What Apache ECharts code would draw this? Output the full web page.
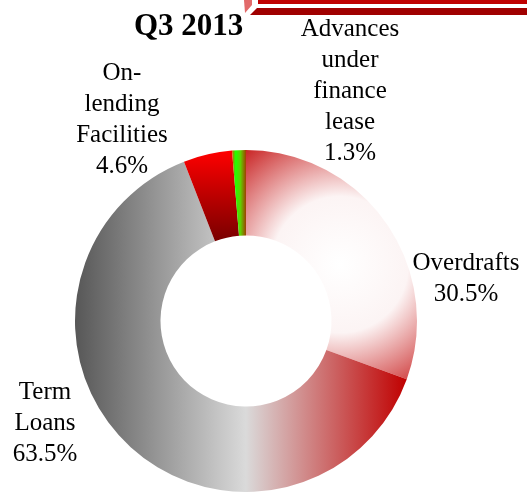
<!DOCTYPE html>
<html>
<head>
<meta charset="utf-8">
<script src="https://cdn.jsdelivr.net/npm/echarts@6/dist/echarts.min.js"></script>
<style>
html,body{margin:0;padding:0;background:#fff;}
#chart{width:527px;height:492px;}
</style>
</head>
<body>
<div id="chart"></div>
<script>
var title = 'Q3 2013';
var categories = ['Overdrafts', 'Term\nLoans', 'On-\nlending\nFacilities', 'Advances\nunder\nfinance\nlease'];
var values = [30.5, 63.5, 4.6, 1.3];
var valueLabels = ['30.5%', '63.5%', '4.6%', '1.3%'];

var G = echarts.graphic;
var sliceColors = [
  new G.RadialGradient(0.55, 0.5, 0.95, [
    {offset: 0, color: '#ffffff'}, {offset: 0.42, color: '#fcf4f4'}, {offset: 1, color: '#c00000'}]),
  new G.LinearGradient(0, 0, 1, 0, [
    {offset: 0, color: '#575757'}, {offset: 0.515, color: '#dadada'}, {offset: 1, color: '#c00000'}]),
  new G.LinearGradient(0, 0, 0, 1, [
    {offset: 0, color: '#ff0000'}, {offset: 1, color: '#780000'}]),
  new G.LinearGradient(0, 0, 1, 0, [
    {offset: 0, color: '#d06000'}, {offset: 0.25, color: '#22ff00'}, {offset: 0.6, color: '#60d000'}, {offset: 1, color: '#a04000'}])
];
var labelPos = [[466, 279], [45, 423], [122, 120], [350, 91]];

var chart = echarts.init(document.getElementById('chart'), null, {renderer: 'canvas'});
chart.setOption({
  animation: false,
  title: {
    text: title, left: 129, top: 6,
    textStyle: {fontFamily: 'Liberation Serif', fontWeight: 'bold', fontSize: 31, color: '#000'}
  },
  graphic: [
    {type: 'polygon', shape: {points: [[244, 0], [252, 0], [252, 5], [245, 13]]}, style: {fill: '#e26a6a'}},
    {type: 'rect', shape: {x: 258, y: 0, width: 269, height: 4}, style: {fill: '#c00000'}},
    {type: 'polygon', shape: {points: [[257, 8], [527, 8], [527, 15], [250, 15]]}, style: {fill: '#a00000'}}
  ],
  series: [{
    type: 'pie',
    center: [246, 321],
    radius: [85.5, 171],
    startAngle: 90,
    clockwise: true,
    avoidLabelOverlap: false,
    labelLine: {show: false},
    label: {
      show: true, position: 'outside',
      formatter: function (p) { return p.name + '\n' + valueLabels[p.dataIndex]; },
      fontFamily: 'Liberation Serif', fontSize: 25, lineHeight: 31, color: '#000', align: 'center'
    },
    labelLayout: function (p) {
      var pos = labelPos[p.dataIndex];
      return {x: pos[0], y: pos[1], align: 'center', verticalAlign: 'middle'};
    },
    data: categories.map(function (c, i) {
      return {name: c, value: values[i], itemStyle: {color: sliceColors[i]}};
    })
  }]
});
</script>
</body>
</html>
